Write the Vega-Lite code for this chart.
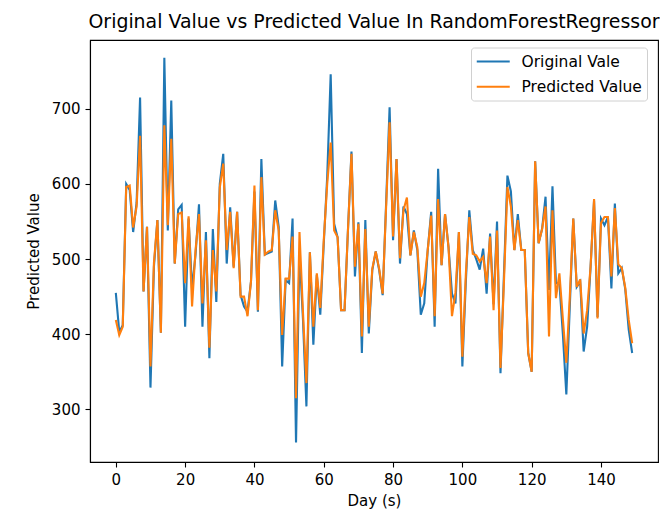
{
  "$schema": "https://vega.github.io/schema/vega-lite/v6.json",
  "width": 568,
  "height": 422,
  "autosize": {"type": "none"},
  "padding": {"left": 90, "top": 40, "right": 2, "bottom": 49},
  "background": "white",
  "title": {
    "text": "Original Value vs Predicted Value In RandomForestRegressor",
    "anchor": "middle",
    "frame": "group",
    "font": "DejaVu Sans",
    "fontSize": 18.9,
    "fontWeight": "normal",
    "color": "black",
    "offset": 8
  },
  "data": {
    "values": [
      {"day": 0, "Original Vale": 455, "Predicted Value": 419},
      {"day": 1, "Original Vale": 403, "Predicted Value": 399},
      {"day": 2, "Original Vale": 412, "Predicted Value": 410},
      {"day": 3, "Original Vale": 600, "Predicted Value": 596},
      {"day": 4, "Original Vale": 592, "Predicted Value": 598},
      {"day": 5, "Original Vale": 536, "Predicted Value": 542},
      {"day": 6, "Original Vale": 575, "Predicted Value": 570},
      {"day": 7, "Original Vale": 715, "Predicted Value": 664},
      {"day": 8, "Original Vale": 457, "Predicted Value": 457},
      {"day": 9, "Original Vale": 543, "Predicted Value": 543},
      {"day": 10, "Original Vale": 329, "Predicted Value": 357},
      {"day": 11, "Original Vale": 490, "Predicted Value": 495},
      {"day": 12, "Original Vale": 552, "Predicted Value": 552},
      {"day": 13, "Original Vale": 402, "Predicted Value": 402},
      {"day": 14, "Original Vale": 768, "Predicted Value": 678},
      {"day": 15, "Original Vale": 538, "Predicted Value": 545},
      {"day": 16, "Original Vale": 711, "Predicted Value": 660},
      {"day": 17, "Original Vale": 494, "Predicted Value": 494},
      {"day": 18, "Original Vale": 566, "Predicted Value": 560},
      {"day": 19, "Original Vale": 572, "Predicted Value": 562},
      {"day": 20, "Original Vale": 410, "Predicted Value": 468},
      {"day": 21, "Original Vale": 554, "Predicted Value": 557},
      {"day": 22, "Original Vale": 460, "Predicted Value": 437},
      {"day": 23, "Original Vale": 506, "Predicted Value": 512},
      {"day": 24, "Original Vale": 573, "Predicted Value": 560},
      {"day": 25, "Original Vale": 410, "Predicted Value": 441},
      {"day": 26, "Original Vale": 536, "Predicted Value": 525},
      {"day": 27, "Original Vale": 368, "Predicted Value": 382},
      {"day": 28, "Original Vale": 540, "Predicted Value": 512},
      {"day": 29, "Original Vale": 443, "Predicted Value": 457},
      {"day": 30, "Original Vale": 600, "Predicted Value": 595},
      {"day": 31, "Original Vale": 640, "Predicted Value": 627},
      {"day": 32, "Original Vale": 494, "Predicted Value": 512},
      {"day": 33, "Original Vale": 569, "Predicted Value": 563},
      {"day": 34, "Original Vale": 490, "Predicted Value": 488},
      {"day": 35, "Original Vale": 563, "Predicted Value": 563},
      {"day": 36, "Original Vale": 452, "Predicted Value": 450},
      {"day": 37, "Original Vale": 437, "Predicted Value": 450},
      {"day": 38, "Original Vale": 430, "Predicted Value": 424},
      {"day": 39, "Original Vale": 470, "Predicted Value": 470},
      {"day": 40, "Original Vale": 590, "Predicted Value": 598},
      {"day": 41, "Original Vale": 430, "Predicted Value": 432},
      {"day": 42, "Original Vale": 633, "Predicted Value": 609},
      {"day": 43, "Original Vale": 506, "Predicted Value": 506},
      {"day": 44, "Original Vale": 508, "Predicted Value": 510},
      {"day": 45, "Original Vale": 510, "Predicted Value": 512},
      {"day": 46, "Original Vale": 578, "Predicted Value": 565},
      {"day": 47, "Original Vale": 543, "Predicted Value": 538},
      {"day": 48, "Original Vale": 357, "Predicted Value": 399},
      {"day": 49, "Original Vale": 472, "Predicted Value": 474},
      {"day": 50, "Original Vale": 468, "Predicted Value": 474},
      {"day": 51, "Original Vale": 554, "Predicted Value": 530},
      {"day": 52, "Original Vale": 256, "Predicted Value": 315},
      {"day": 53, "Original Vale": 510, "Predicted Value": 536},
      {"day": 54, "Original Vale": 420, "Predicted Value": 430},
      {"day": 55, "Original Vale": 304, "Predicted Value": 335},
      {"day": 56, "Original Vale": 509, "Predicted Value": 509},
      {"day": 57, "Original Vale": 386, "Predicted Value": 410},
      {"day": 58, "Original Vale": 479, "Predicted Value": 481},
      {"day": 59, "Original Vale": 426, "Predicted Value": 435},
      {"day": 60, "Original Vale": 520, "Predicted Value": 525},
      {"day": 61, "Original Vale": 610, "Predicted Value": 600},
      {"day": 62, "Original Vale": 746, "Predicted Value": 655},
      {"day": 63, "Original Vale": 547, "Predicted Value": 538},
      {"day": 64, "Original Vale": 529, "Predicted Value": 529},
      {"day": 65, "Original Vale": 432, "Predicted Value": 432},
      {"day": 66, "Original Vale": 432, "Predicted Value": 432},
      {"day": 67, "Original Vale": 540, "Predicted Value": 540},
      {"day": 68, "Original Vale": 643, "Predicted Value": 640},
      {"day": 69, "Original Vale": 477, "Predicted Value": 490},
      {"day": 70, "Original Vale": 549, "Predicted Value": 547},
      {"day": 71, "Original Vale": 375, "Predicted Value": 397},
      {"day": 72, "Original Vale": 552, "Predicted Value": 540},
      {"day": 73, "Original Vale": 401, "Predicted Value": 410},
      {"day": 74, "Original Vale": 485, "Predicted Value": 487},
      {"day": 75, "Original Vale": 510, "Predicted Value": 510},
      {"day": 76, "Original Vale": 485, "Predicted Value": 487},
      {"day": 77, "Original Vale": 452, "Predicted Value": 454},
      {"day": 78, "Original Vale": 575, "Predicted Value": 570},
      {"day": 79, "Original Vale": 702, "Predicted Value": 682},
      {"day": 80, "Original Vale": 525, "Predicted Value": 530},
      {"day": 81, "Original Vale": 633, "Predicted Value": 633},
      {"day": 82, "Original Vale": 494, "Predicted Value": 501},
      {"day": 83, "Original Vale": 570, "Predicted Value": 565},
      {"day": 84, "Original Vale": 560, "Predicted Value": 582},
      {"day": 85, "Original Vale": 505, "Predicted Value": 505},
      {"day": 86, "Original Vale": 538, "Predicted Value": 536},
      {"day": 87, "Original Vale": 512, "Predicted Value": 516},
      {"day": 88, "Original Vale": 426, "Predicted Value": 450},
      {"day": 89, "Original Vale": 441, "Predicted Value": 468},
      {"day": 90, "Original Vale": 512, "Predicted Value": 512},
      {"day": 91, "Original Vale": 563, "Predicted Value": 558},
      {"day": 92, "Original Vale": 410, "Predicted Value": 424},
      {"day": 93, "Original Vale": 620, "Predicted Value": 580},
      {"day": 94, "Original Vale": 492, "Predicted Value": 492},
      {"day": 95, "Original Vale": 560, "Predicted Value": 560},
      {"day": 96, "Original Vale": 516, "Predicted Value": 516},
      {"day": 97, "Original Vale": 454, "Predicted Value": 424},
      {"day": 98, "Original Vale": 441, "Predicted Value": 455},
      {"day": 99, "Original Vale": 536, "Predicted Value": 536},
      {"day": 100, "Original Vale": 357, "Predicted Value": 370},
      {"day": 101, "Original Vale": 470, "Predicted Value": 480},
      {"day": 102, "Original Vale": 565, "Predicted Value": 556},
      {"day": 103, "Original Vale": 512, "Predicted Value": 507},
      {"day": 104, "Original Vale": 500, "Predicted Value": 505},
      {"day": 105, "Original Vale": 486, "Predicted Value": 497},
      {"day": 106, "Original Vale": 514, "Predicted Value": 503},
      {"day": 107, "Original Vale": 454, "Predicted Value": 468},
      {"day": 108, "Original Vale": 534, "Predicted Value": 530},
      {"day": 109, "Original Vale": 440, "Predicted Value": 432},
      {"day": 110, "Original Vale": 550, "Predicted Value": 538},
      {"day": 111, "Original Vale": 348, "Predicted Value": 355},
      {"day": 112, "Original Vale": 480, "Predicted Value": 470},
      {"day": 113, "Original Vale": 611, "Predicted Value": 596},
      {"day": 114, "Original Vale": 590, "Predicted Value": 570},
      {"day": 115, "Original Vale": 512, "Predicted Value": 512},
      {"day": 116, "Original Vale": 560, "Predicted Value": 552},
      {"day": 117, "Original Vale": 512, "Predicted Value": 512},
      {"day": 118, "Original Vale": 512, "Predicted Value": 512},
      {"day": 119, "Original Vale": 375, "Predicted Value": 375},
      {"day": 120, "Original Vale": 350, "Predicted Value": 350},
      {"day": 121, "Original Vale": 630, "Predicted Value": 630},
      {"day": 122, "Original Vale": 521, "Predicted Value": 521},
      {"day": 123, "Original Vale": 540, "Predicted Value": 540},
      {"day": 124, "Original Vale": 583, "Predicted Value": 570},
      {"day": 125, "Original Vale": 459, "Predicted Value": 397},
      {"day": 126, "Original Vale": 597, "Predicted Value": 565},
      {"day": 127, "Original Vale": 468, "Predicted Value": 448},
      {"day": 128, "Original Vale": 468, "Predicted Value": 481},
      {"day": 129, "Original Vale": 400, "Predicted Value": 420},
      {"day": 130, "Original Vale": 320, "Predicted Value": 362},
      {"day": 131, "Original Vale": 437, "Predicted Value": 450},
      {"day": 132, "Original Vale": 554, "Predicted Value": 554},
      {"day": 133, "Original Vale": 463, "Predicted Value": 463},
      {"day": 134, "Original Vale": 470, "Predicted Value": 473},
      {"day": 135, "Original Vale": 377, "Predicted Value": 401},
      {"day": 136, "Original Vale": 410, "Predicted Value": 432},
      {"day": 137, "Original Vale": 490, "Predicted Value": 490},
      {"day": 138, "Original Vale": 578, "Predicted Value": 580},
      {"day": 139, "Original Vale": 423, "Predicted Value": 421},
      {"day": 140, "Original Vale": 554, "Predicted Value": 548},
      {"day": 141, "Original Vale": 545, "Predicted Value": 556},
      {"day": 142, "Original Vale": 556, "Predicted Value": 556},
      {"day": 143, "Original Vale": 461, "Predicted Value": 477},
      {"day": 144, "Original Vale": 574, "Predicted Value": 568},
      {"day": 145, "Original Vale": 481, "Predicted Value": 493},
      {"day": 146, "Original Vale": 488, "Predicted Value": 488},
      {"day": 147, "Original Vale": 460, "Predicted Value": 462},
      {"day": 148, "Original Vale": 406, "Predicted Value": 419},
      {"day": 149, "Original Vale": 375, "Predicted Value": 388}
    ]
  },
  "transform": [
    {"fold": ["Original Vale", "Predicted Value"], "as": ["series", "value"]}
  ],
  "mark": {"type": "line", "strokeWidth": 2.1, "clip": true},
  "encoding": {
    "x": {
      "field": "day",
      "type": "quantitative",
      "scale": {"domain": [-7.45, 156.45], "nice": false, "zero": false},
      "axis": {"values": [0, 20, 40, 60, 80, 100, 120, 140], "title": "Day (s)", "titlePadding": 6}
    },
    "y": {
      "field": "value",
      "type": "quantitative",
      "scale": {"domain": [230, 791.5], "nice": false, "zero": false},
      "axis": {"values": [300, 400, 500, 600, 700], "title": "Predicted Value", "titlePadding": 10}
    },
    "color": {
      "field": "series",
      "type": "nominal",
      "scale": {"domain": ["Original Vale", "Predicted Value"], "range": ["#1f77b4", "#ff7f0e"]},
      "legend": {
        "title": null,
        "orient": "none",
        "legendX": 381,
        "legendY": 7.5,
        "symbolType": "M-2,0H2",
        "symbolSize": 272,
        "symbolOffset": 8.25,
        "symbolStrokeWidth": 2.1,
        "symbolFillColor": "transparent",
        "labelOffset": 18.8,
        "labelFontSize": 15.5,
        "labelFont": "DejaVu Sans",
        "labelColor": "black",
        "rowPadding": 7.3,
        "padding": 4.5,
        "fillColor": "white",
        "strokeColor": "#d0d0d0",
        "cornerRadius": 3
      }
    }
  },
  "config": {
    "view": {"stroke": "black", "strokeWidth": 1.1},
    "axis": {
      "grid": false,
      "domain": true,
      "domainColor": "black",
      "domainWidth": 1.1,
      "tickColor": "black",
      "tickWidth": 1.1,
      "tickSize": 5,
      "labelPadding": 5,
      "labelFont": "DejaVu Sans",
      "labelFontSize": 15,
      "labelColor": "black",
      "titleFont": "DejaVu Sans",
      "titleFontSize": 15,
      "titleFontWeight": "normal",
      "titleColor": "black"
    }
  }
}
